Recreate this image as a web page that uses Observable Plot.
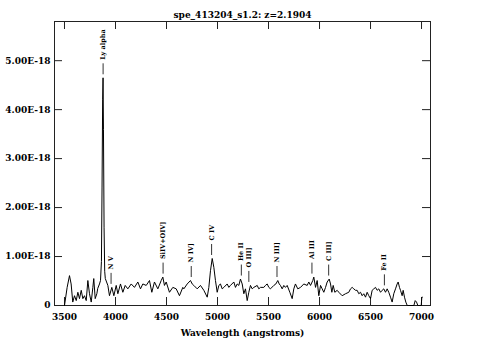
<!DOCTYPE html>
<html>
<head>
<meta charset="utf-8">
<script src="https://cdn.jsdelivr.net/npm/d3@7"></script>
<script src="https://cdn.jsdelivr.net/npm/@observablehq/plot@0.6"></script>
<style>
  html, body { margin: 0; padding: 0; background: white; }
</style>
</head>
<body>
<div id="chart"></div>
<script>
// ---- data ----
const title = "spe_413204_s1.2: z=2.1904";
const redshift = 2.1904;
const xLabel = "Wavelength (angstroms)";

// observed wavelength (Angstrom)
const wavelength = [
  3500, 3526, 3549, 3565, 3581, 3598, 3615, 3631, 3647, 3664, 3680, 3696, 3713, 3729, 3745, 3762, 3778, 3787, 3801, 3817, 3826, 3843, 3853,
  3862, 3868, 3874, 3878, 3882, 3888, 3894, 3900,
  3909, 3925, 3941, 3964, 3984, 4007, 4023, 4049, 4072, 4095, 4121, 4154, 4186, 4219, 4245, 4268, 4301, 4333, 4356, 4382, 4415, 4448, 4464, 4480, 4497, 4529, 4562, 4595, 4627, 4660,
  4670, 4703, 4735, 4752, 4768, 4801, 4833, 4866, 4899, 4915, 4931, 4948, 4964, 4980, 4997, 5013, 5029, 5046, 5062, 5095, 5111, 5127, 5160, 5176, 5193, 5209, 5225, 5242, 5258, 5274, 5291, 5307, 5323, 5340, 5356, 5389, 5405, 5421, 5454, 5470, 5487, 5503, 5519, 5552, 5572, 5591, 5605, 5617, 5634, 5650, 5666, 5683, 5709, 5732, 5748, 5764, 5787, 5814, 5846, 5879, 5895,
  5912, 5934, 5944, 5961, 5977, 5993, 6010, 6026, 6042, 6059, 6075, 6095, 6108, 6121, 6134, 6150, 6173, 6189, 6222, 6255, 6287, 6304, 6320, 6336, 6353, 6369, 6385, 6402, 6418, 6434, 6451, 6467, 6483, 6500, 6516, 6532, 6549, 6565, 6581, 6598, 6614, 6630, 6647, 6663, 6679, 6696, 6712, 6728, 6745, 6761, 6771, 6784, 6794, 6810, 6820, 6833, 6846, 6860, 6925, 6938, 6951, 6964, 6997, 7003, 7008
];
// flux (units of 1E-18)
const flux = [
  0.00, 0.37, 0.61, 0.44, 0.07, 0.20, 0.10, 0.27, 0.14, 0.31, 0.14, 0.20, 0.10, 0.51, 0.24, 0.07, 0.37, 0.55, 0.14, 0.24, 0.35, 0.44, 0.51,
  0.90, 2.40, 4.20, 4.65, 3.60, 1.60, 0.70, 0.55,
  0.50, 0.41, 0.20, 0.37, 0.20, 0.41, 0.24, 0.44, 0.27, 0.41, 0.34, 0.44, 0.37, 0.48, 0.34, 0.44, 0.41, 0.51, 0.27, 0.48, 0.34, 0.51, 0.58, 0.41, 0.48, 0.27, 0.37, 0.34, 0.20, 0.37,
  0.34, 0.44, 0.51, 0.44, 0.41, 0.34, 0.41, 0.31, 0.17, 0.37, 0.71, 0.96, 0.78, 0.51, 0.27, 0.41, 0.44, 0.34, 0.37, 0.44, 0.37, 0.41, 0.48, 0.37, 0.44, 0.41, 0.54, 0.44, 0.24, 0.34, 0.10, 0.27, 0.41, 0.34, 0.37, 0.41, 0.34, 0.37, 0.37, 0.41, 0.44, 0.37, 0.34, 0.41, 0.44, 0.51, 0.44, 0.41, 0.34, 0.41, 0.37, 0.41, 0.27, 0.14, 0.34, 0.44, 0.34, 0.37, 0.44, 0.41, 0.48,
  0.41, 0.51, 0.58, 0.37, 0.51, 0.20, 0.41, 0.34, 0.27, 0.37, 0.48, 0.54, 0.44, 0.27, 0.41, 0.27, 0.31, 0.27, 0.20, 0.24, 0.27, 0.34, 0.37, 0.34, 0.31, 0.31, 0.24, 0.27, 0.20, 0.24, 0.17, 0.27, 0.20, 0.14, 0.31, 0.34, 0.37, 0.31, 0.34, 0.27, 0.31, 0.34, 0.27, 0.34, 0.27, 0.17, 0.07, 0.24, 0.34, 0.44, 0.48, 0.37, 0.31, 0.20, 0.31, 0.17, 0.07, 0.00, 0.00, 0.10, 0.07, 0.00, 0.00, 0.17, 0.17
];

const lineNames = ["Ly alpha", "N V", "SiIV+OIV]", "N IV]", "C IV", "He II", "O III]", "N III]", "Al III", "C III]", "Fe II"];
const restWavelength = [1215.67, 1240.14, 1400.0, 1486.5, 1549.06, 1640.42, 1663.48, 1750.0, 1857.4, 1908.73, 2080.0];

const xTicks = [3500, 4000, 4500, 5000, 5500, 6000, 6500, 7000];
const xTickLabels = ["3500", "4000", "4500", "5000", "5500", "6000", "6500", "7000"];
const yTicks = [0, 1, 2, 3, 4, 5];
const yTickLabels = ["0", "1.00E-18", "2.00E-18", "3.00E-18", "4.00E-18", "5.00E-18"];

// ---- layout ----
const W = 483, H = 358;
const mL = 54, mR = 53, mT = 21, mB = 53;
const xDom = [3402, 7088], yDom = [0, 5.8];
const innerW = W - mL - mR, innerH = H - mT - mB;
const pxY = (yDom[1] - yDom[0]) / innerH;   // data units per px (y)
const pxX = (xDom[1] - xDom[0]) / innerW;   // data units per px (x)
const tick = 8;

const spectrum = wavelength.map((w, i) => ({w, f: flux[i]}));
const lines = lineNames.map((name, i) => {
  const obs = restWavelength[i] * (1 + redshift);
  const near = spectrum.filter(d => Math.abs(d.w - obs) <= 25);
  const peak = d3.max(near, d => d.f) ?? 0;
  const y1 = peak + 3 * pxY;
  const y2 = y1 + 11 * pxY;
  return {name, obs, y1, y2};
});

const font = "'DejaVu Serif', 'Liberation Serif', serif";

const chart = Plot.plot({
  width: W, height: H,
  marginLeft: mL, marginRight: mR, marginTop: mT, marginBottom: mB,
  x: {domain: xDom},
  y: {domain: yDom},
  style: {fontFamily: font, fontSize: "9px", fontWeight: "bold", background: "white", color: "black"},
  marks: [
    Plot.frame({stroke: "#222"}),
    // ticks (inward)
    Plot.ruleX(xTicks, {x: d => d, y1: yDom[0], y2: yDom[0] + tick * pxY, stroke: "#222"}),
    Plot.ruleX(xTicks, {x: d => d, y1: yDom[1] - tick * pxY, y2: yDom[1], stroke: "#222"}),
    Plot.ruleY(yTicks, {y: d => d, x1: xDom[0], x2: xDom[0] + tick * pxX, stroke: "#222"}),
    Plot.ruleY(yTicks, {y: d => d, x1: xDom[1] - tick * pxX, x2: xDom[1], stroke: "#222"}),
    Plot.axisX(xTicks, {tickSize: 0, tickPadding: 8, label: null, tickFormat: d => xTickLabels[xTicks.indexOf(d)], fontWeight: "bold"}),
    Plot.axisY(yTicks, {tickSize: 0, tickPadding: 4, label: null, tickFormat: d => yTickLabels[yTicks.indexOf(d)], fontWeight: "bold"}),
    // spectrum
    Plot.line(spectrum, {x: "w", y: "f", stroke: "black", strokeWidth: 1}),
    // line identifications
    Plot.ruleX(lines, {x: "obs", y1: "y1", y2: "y2", stroke: "#333"}),
    Plot.text(lines, {x: "obs", y: "y2", text: "name", rotate: -90, textAnchor: "start", dy: -4, fontSize: 6.5, fontWeight: "bold"}),
    // title and x label
    Plot.text([title], {frameAnchor: "top", dy: -10, fontSize: 9, fontWeight: "bold"}),
    Plot.text([xLabel], {frameAnchor: "bottom", dy: 30, fontSize: 9, fontWeight: "bold"})
  ]
});
document.getElementById("chart").appendChild(chart);
</script>
</body>
</html>
